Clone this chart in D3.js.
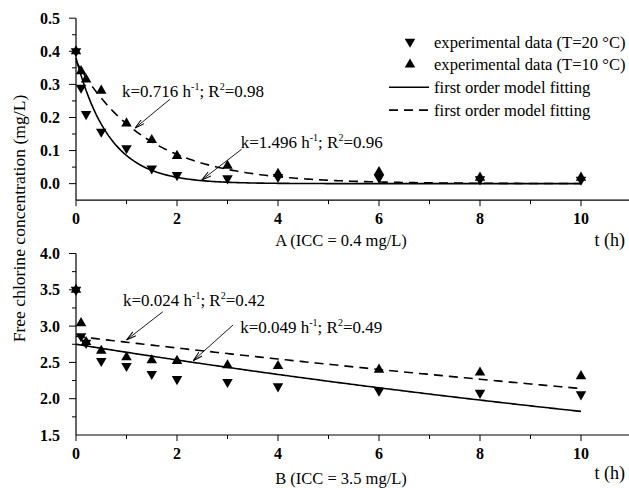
<!doctype html>
<html>
<head>
<style>
  body { margin: 0; background: #fff; }
  svg { font-family: "Liberation Serif", "Times New Roman", Times, "DejaVu Serif", serif; }
  .tick-label { font-weight: bold; font-size: 16px; }
</style>
<script src="https://d3js.org/d3.v7.min.js"></script>
</head>
<body>
<svg width="629" height="488" font-family="Liberation Serif, Times New Roman, serif"></svg>
<script>
// time points (h)
var timesA = [0, 0.1, 0.2, 0.5, 1, 1.5, 2, 3, 4, 6, 8, 10];
var timesB = [0, 0.1, 0.2, 0.5, 1, 1.5, 2, 3, 4, 6, 8, 10];

// panel A, ICC = 0.4 mg/L
var a20 = [0.40, 0.29, 0.21, 0.157, 0.107, 0.046, 0.026, 0.016, 0.020, 0.018, 0.013, 0.012];
var a10 = [0.40, 0.34, 0.315, 0.281, 0.182, 0.132, 0.084, 0.054, 0.030, 0.035, 0.018, 0.018];
// panel B, ICC = 3.5 mg/L
var b20 = [3.50, 2.86, 2.77, 2.52, 2.45, 2.34, 2.27, 2.23, 2.17, 2.11, 2.08, 2.06];
var b10 = [3.50, 3.04, 2.78, 2.66, 2.57, 2.53, 2.52, 2.46, 2.45, 2.40, 2.36, 2.31];

// fitted first order curves: [C0, k] as drawn
var fitA20 = [0.38, 1.496], fitA10 = [0.37, 0.716];
var fitB20 = [2.75, 0.041], fitB10 = [2.86, 0.029];

var ticksA = [0, 0.1, 0.2, 0.3, 0.4, 0.5];
var ticksB = [1.5, 2.0, 2.5, 3.0, 3.5, 4.0];
var ticksX = [0, 2, 4, 6, 8, 10];

var legendLabels = ["experimental data (T=20 \u00B0C)", "experimental data (T=10 \u00B0C)",
                    "first order model fitting", "first order model fitting"];

var svg = d3.select("svg");

var defs = svg.append("defs");
defs.append("marker")
    .attr("id", "arr")
    .attr("viewBox", "0 -3 10 6")
    .attr("refX", 10).attr("refY", 0)
    .attr("markerWidth", 10).attr("markerHeight", 6)
    .attr("markerUnits", "userSpaceOnUse")
    .attr("orient", "auto")
    .append("path").attr("d", "M0,-2.5L10,0L0,2.5").attr("fill", "none")
    .attr("stroke", "#000").attr("stroke-width", 1);

var x = d3.scaleLinear().domain([0, 11]).range([76, 631.5]);

var tSmooth = d3.range(0, 10.001, 0.05);

function panel(opt) {
    var y = opt.y;
    var g = svg.append("g");
    var x0 = x(0), yb = y.range()[0], yt = y.range()[1];

    // axes lines
    g.append("line").attr("x1", x0).attr("x2", x0).attr("y1", yb).attr("y2", yt)
        .attr("stroke", "#000").attr("stroke-width", 1.2);
    g.append("line").attr("x1", x0).attr("x2", 629).attr("y1", yb).attr("y2", yb)
        .attr("stroke", "#000").attr("stroke-width", 1.2);

    // y ticks
    var yt0 = opt.yTicks;
    var step = yt0[1] - yt0[0];
    yt0.forEach(function(v) {
        if (y(v) > yb - 0.5) return;
        g.append("line").attr("x1", x0 - 7).attr("x2", x0).attr("y1", y(v)).attr("y2", y(v))
            .attr("stroke", "#000");
    });
    yt0.forEach(function(v) {
        g.append("text").attr("class", "tick-label").attr("x", x0 - 16).attr("y", y(v))
            .attr("dy", "0.35em").attr("text-anchor", "end").text(opt.fmt(v));
        var m = v + step / 2;
        if (y(m) < yt) return;
        g.append("line").attr("x1", x0 - 4).attr("x2", x0).attr("y1", y(m)).attr("y2", y(m))
            .attr("stroke", "#000");
    });

    // x ticks
    ticksX.forEach(function(t) {
        g.append("line").attr("x1", x(t)).attr("x2", x(t)).attr("y1", yb).attr("y2", yb + 6)
            .attr("stroke", "#000");
        g.append("text").attr("class", "tick-label").attr("x", x(t)).attr("y", yb + 18)
            .attr("dy", "0.35em").attr("text-anchor", "middle").text(t);
        g.append("line").attr("x1", x(t + 1)).attr("x2", x(t + 1)).attr("y1", yb).attr("y2", yb + 4)
            .attr("stroke", "#000");
    });

    // fitted curves
    [[opt.fit20, null], [opt.fit10, "9,6"]].forEach(function(f) {
        var c0 = f[0][0], k = f[0][1];
        g.append("path")
            .datum(tSmooth)
            .attr("d", d3.line().x(function(t) { return x(t); })
                .y(function(t) { return y(c0 * Math.exp(-k * t)); }))
            .attr("fill", "none").attr("stroke", "#000").attr("stroke-width", 1.6)
            .attr("stroke-dasharray", f[1]);
    });

    // markers
    var tri = d3.symbol().type(d3.symbolTriangle).size(48);
    g.selectAll(".up").data(opt.d10).enter().append("path")
        .attr("d", tri)
        .attr("transform", function(d, i) { return "translate(" + x(opt.times[i]) + "," + y(d) + ")"; });
    g.selectAll(".dn").data(opt.d20).enter().append("path")
        .attr("d", tri)
        .attr("transform", function(d, i) { return "translate(" + x(opt.times[i]) + "," + y(d) + ") rotate(180)"; });

    // annotations
    opt.notes.forEach(function(n) {
        var t = g.append("text").attr("x", x(n.tx)).attr("y", y(n.ty)).attr("font-size", 17);
        t.append("tspan").text("k=" + n.k + " h");
        t.append("tspan").attr("font-size", 10).attr("dy", -7).text("-1");
        t.append("tspan").attr("dy", 7).text("; R");
        t.append("tspan").attr("font-size", 10).attr("dy", -7).text("2");
        t.append("tspan").attr("dy", 7).text("=" + n.r2);
        g.append("line")
            .attr("x1", x(n.a[0])).attr("y1", y(n.a[1]))
            .attr("x2", x(n.a[2])).attr("y2", y(n.a[3]))
            .attr("stroke", "#000").attr("stroke-width", 0.9)
            .attr("marker-end", "url(#arr)");
    });

    // captions
    g.append("text").attr("x", 341).attr("y", opt.capY).attr("text-anchor", "middle")
        .attr("font-size", 16.5).text(opt.caption);
    g.append("text").attr("x", 625).attr("y", opt.tY).attr("text-anchor", "end")
        .attr("font-size", 18).text("t (h)");
}

var yA = d3.scaleLinear().domain([-0.05, 0.5]).range([200.2, 18.2]);
var yB = d3.scaleLinear().domain([1.5, 4.0]).range([435, 253.5]);

panel({
    y: yA, yTicks: ticksA, fmt: d3.format(".1f"),
    times: timesA, d20: a20, d10: a10, fit20: fitA20, fit10: fitA10,
    notes: [
        { tx: 0.91, ty: 0.262, k: "0.716", r2: "0.98", a: [1.86, 0.255, 1.17, 0.168] },
        { tx: 3.26, ty: 0.108, k: "1.496", r2: "0.96", a: [3.28, 0.104, 2.49, 0.011] }
    ],
    caption: "A (ICC = 0.4 mg/L)", capY: 246, tY: 246
});

panel({
    y: yB, yTicks: ticksB, fmt: d3.format(".1f"),
    times: timesB, d20: b20, d10: b10, fit20: fitB20, fit10: fitB10,
    notes: [
        { tx: 0.93, ty: 3.277, k: "0.024", r2: "0.42", a: [1.72, 3.198, 1.00, 2.809] },
        { tx: 3.25, ty: 2.905, k: "0.049", r2: "0.49", a: [3.11, 3.015, 2.32, 2.523] }
    ],
    caption: "B (ICC = 3.5 mg/L)", capY: 484, tY: 479
});

// legend
var lg = svg.append("g");
var ly = d3.scaleBand().domain(d3.range(4)).range([30.3, 121.5]);
legendLabels.forEach(function(s, i) {
    var yy = ly(i) + ly.bandwidth() / 2;
    lg.append("text").attr("x", 434).attr("y", yy).attr("dy", "0.35em")
        .attr("font-size", 16.6).text(s);
    if (i < 2) {
        lg.append("path").attr("d", d3.symbol().type(d3.symbolTriangle).size(48))
            .attr("transform", "translate(410," + yy + ")" + (i === 0 ? " rotate(180)" : ""));
    } else {
        lg.append("line").attr("x1", 389).attr("x2", 429).attr("y1", yy).attr("y2", yy)
            .attr("stroke", "#000").attr("stroke-width", 1.6)
            .attr("stroke-dasharray", i === 3 ? "9,6" : null);
    }
});

// y title
svg.append("text")
    .attr("transform", "translate(25,218.5) rotate(-90)")
    .attr("text-anchor", "middle").attr("font-size", 17.6)
    .text("Free chlorine concentration (mg/L)");
</script>
</body>
</html>
